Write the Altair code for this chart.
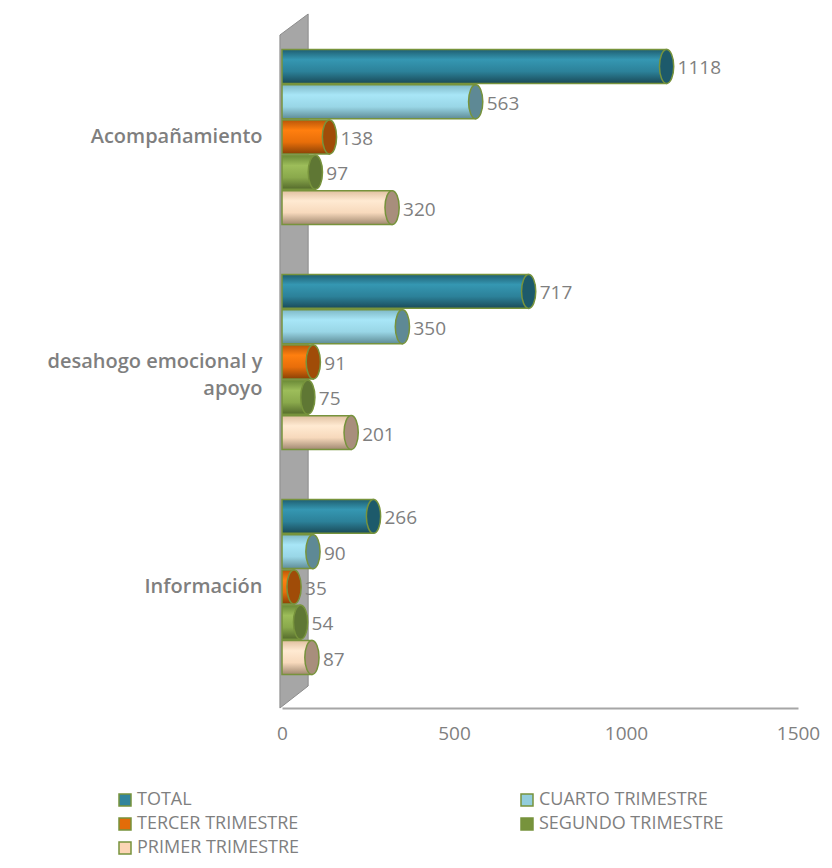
import altair as alt
import pandas as pd

categories = ["Acompañamiento", "desahogo emocional y apoyo", "Información"]
series = ["TOTAL", "CUARTO TRIMESTRE", "TERCER TRIMESTRE", "SEGUNDO TRIMESTRE", "PRIMER TRIMESTRE"]
total = [1118, 717, 266]
cuarto = [563, 350, 90]
tercer = [138, 91, 35]
segundo = [97, 75, 54]
primer = [320, 201, 87]
x_ticks = [0, 500, 1000, 1500]

# decorative side wall of the 3D frame (x in data units, y in pixels from top)
wall_x = [-6, 76]
wall_top = [19, -2]
wall_bottom = [692, 670]

values = [total, cuarto, tercer, segundo, primer]
legend_colors = ["#31859C", "#92CDDC", "#E36C09", "#77933C", "#FCD5B5"]
cap_colors = ["#1D5A6B", "#5E8995", "#A04C08", "#5F7734", "#A88E7C"]
grad_stops = [
    ["#1F5E70", "#3597B2", "#2C8199", "#1A4A58"],
    ["#7FB8C6", "#A8E6F7", "#99D6E6", "#5F8C96"],
    ["#B95609", "#FF7F0F", "#E86E0A", "#8A4106"],
    ["#6B8A37", "#9DBD5A", "#8AA94C", "#556B2C"],
    ["#E0C0A0", "#FFEAD2", "#F7D9BC", "#A08870"],
]

rows = []
for s, vals in zip(series, values):
    for c, v in zip(categories, vals):
        rows.append({"categoria": c, "serie": s, "valor": v})
df = pd.DataFrame(rows)
wall_df = pd.DataFrame({"valor": wall_x, "wtop": wall_top, "wbot": wall_bottom})

FONT = "Open Sans"
GRAY = "#7F7F7F"
STROKE = "#77933C"

y_enc = alt.Y(
    "categoria:N",
    sort=categories,
    scale=alt.Scale(paddingInner=0.222, paddingOuter=0.149),
    axis=alt.Axis(
        title=None, domain=False, ticks=False, labelPadding=20,
        labelFont=FONT, labelFontSize=20, labelFontWeight=600, labelColor=GRAY,
        labelLineHeight=27, labelLimit=300,
        labelExpr="datum.value == 'desahogo emocional y apoyo' ? ['desahogo emocional y', 'apoyo'] : datum.label",
    ),
)
yoff_enc = alt.YOffset("serie:N", sort=series, scale=alt.Scale(paddingInner=0.04))
x_axis = alt.Axis(
    title=None, values=x_ticks, grid=False, ticks=False, format="d", labelFlush=False,
    domainColor="#A6A6A6", domainWidth=2, labelPadding=16,
    labelFont=FONT, labelFontSize=19, labelColor=GRAY,
)
x_enc = alt.X("valor:Q", scale=alt.Scale(domain=[0, 1500], nice=False), axis=x_axis)

base = alt.Chart(df)

wall = alt.Chart(wall_df).mark_area(
    orient="vertical", fill="#A6A6A6", stroke="#8C8C8C", strokeWidth=1
).encode(
    x=x_enc,
    y=alt.Y("wtop:Q", scale=alt.Scale(domain=[692, 0], nice=False, zero=False), axis=None),
    y2="wbot:Q",
)

layers = []
for s, stops, cap in zip(series, grad_stops, cap_colors):
    grad = alt.Gradient(
        gradient="linear",
        stops=[
            alt.GradientStop(color=stops[0], offset=0),
            alt.GradientStop(color=stops[1], offset=0.3),
            alt.GradientStop(color=stops[2], offset=0.65),
            alt.GradientStop(color=stops[3], offset=1),
        ],
        x1=0, x2=0, y1=0, y2=1,
    )
    bar = base.mark_bar(fill=grad, stroke=STROKE, strokeWidth=1.5).encode(
        x=x_enc, y=y_enc, yOffset=yoff_enc
    ).transform_filter(alt.datum.serie == s)
    capm = base.mark_point(
        shape="M0,-1 A0.42,1 0 1,1 0,1 A0.42,1 0 1,1 0,-1 Z",
        size=1150, filled=True, fill=cap, stroke=STROKE, strokeWidth=1.5, opacity=1,
    ).encode(x=x_enc, y=y_enc, yOffset=yoff_enc).transform_filter(alt.datum.serie == s)
    layers += [bar, capm]

text = base.mark_text(
    align="left", baseline="middle", dx=11, dy=2, font=FONT, fontSize=19, color=GRAY
).encode(x=x_enc, y=y_enc, yOffset=yoff_enc, text=alt.Text("valor:Q", format="d"))
layers.append(text)

legend_layer = base.mark_square(opacity=0, size=144).encode(
    x=x_enc, y=y_enc, yOffset=yoff_enc,
    color=alt.Color(
        "serie:N",
        sort=series,
        scale=alt.Scale(domain=series, range=legend_colors),
        legend=alt.Legend(
            title=None, orient="none", legendX=-166, legendY=775, columns=2,
            direction="horizontal", columnPadding=218, rowPadding=6,
            symbolType="square", symbolSize=144, symbolOpacity=1,
            symbolStrokeColor=STROKE, symbolStrokeWidth=1.5,
            labelFont=FONT, labelFontSize=18, labelColor=GRAY, labelOffset=3,
            labelLimit=400,
        ),
    ),
)
layers.append(legend_layer)

main = alt.layer(*layers)

chart = alt.layer(wall, main).resolve_scale(y="independent").properties(
    width=516, height=692,
    autosize=alt.AutoSizeParams(type="none"),
    padding={"left": 274, "top": 8, "right": 26, "bottom": 152},
).configure_view(stroke=None)

chart.save("out.html", embed_options={"renderer": "svg", "actions": False})
